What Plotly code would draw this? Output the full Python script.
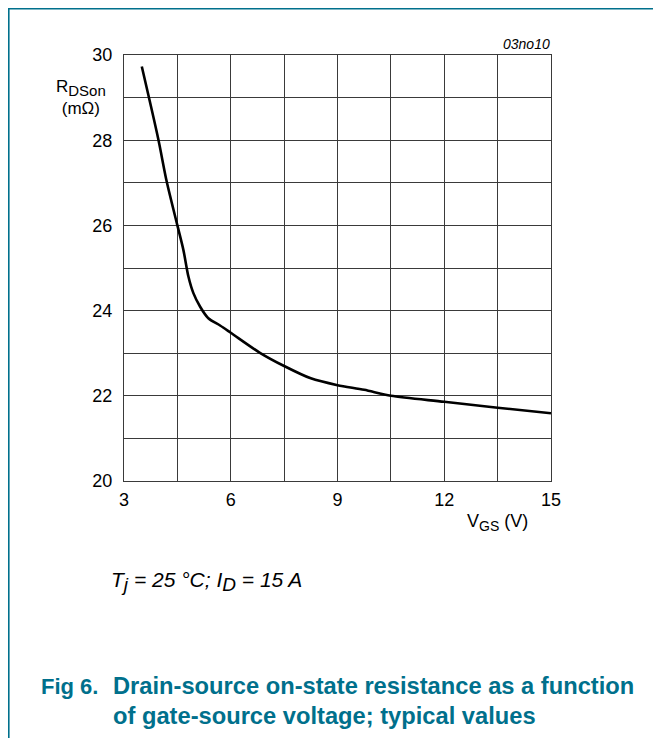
import plotly.graph_objects as go

# Data
vgs = [3.5, 3.96, 4.2, 4.5, 4.67, 4.81, 4.95, 5.14, 5.37, 5.7, 6.0, 6.82, 7.5, 8.25, 9.0, 9.75, 10.5, 12.0, 13.5, 15.0]
rdson = [29.73, 28.04, 27.03, 26.0, 25.42, 24.8, 24.41, 24.09, 23.82, 23.65, 23.48, 23.01, 22.70, 22.41, 22.25, 22.14, 22.0, 21.86, 21.72, 21.59]

x_grid = [3, 4.5, 6, 7.5, 9, 10.5, 12, 13.5, 15]
x_ticks = [3, 6, 9, 12, 15]
y_grid = list(range(20, 31))
y_ticks = [20, 22, 24, 26, 28, 30]

# page offset (browser default body margin)
OFF = 8
W, H = 661 - OFF, 738 - OFF
# plot area in page pixels
PL, PR, PT, PB = 124, 551, 55, 481
L, R, T, B = PL - OFF, PR - OFF, PT - OFF, PB - OFF
TEAL = "#00708c"
FONT = "Liberation Sans, Arial, sans-serif"

def px(x):
    return (x - PL) / (PR - PL)

def py(y):
    return (PB - y) / (PB - PT)

fig = go.Figure()
fig.add_trace(go.Scatter(x=vgs, y=rdson, mode="lines",
                         line=dict(color="black", width=2.6, shape="spline", smoothing=0.8),
                         hoverinfo="skip", showlegend=False))

axis_common = dict(showgrid=True, gridcolor="#3a3a3a", gridwidth=1,
                   showline=True, linecolor="#3a3a3a", linewidth=1, mirror=True,
                   zeroline=False, ticks="", tickfont=dict(family=FONT, size=18, color="black"))

fig.update_xaxes(range=[3, 15], tickvals=x_grid,
                 ticktext=[str(v) if v in x_ticks else "" for v in x_grid],
                 ticklabelstandoff=2, **axis_common)
fig.update_yaxes(range=[20, 30], tickvals=y_grid,
                 ticktext=[str(v) if v in y_ticks else "" for v in y_grid],
                 ticklabelstandoff=7, **axis_common)

def note(text, x, y, size, color="black", xanchor="center", align="center"):
    return dict(text=text, x=px(x), y=py(y), xref="paper", yref="paper",
                showarrow=False, xanchor=xanchor, yanchor="middle", align=align,
                font=dict(family=FONT, size=size, color=color))

ann = [
    note("R<sub><span style='font-size:15px'>DSon</span></sub><br>(mΩ)", 81, 97, 17),
    note("V<sub><span style='font-size:14px'>GS</span></sub> (V)", 497, 522, 18),
    note("<i>03no10</i>", 552, 44, 14, xanchor="right"),
    note("<i>T<sub><span style='font-size:19px'>j</span></sub> = 25 °C; I<sub><span style='font-size:19px'>D</span></sub> = 15 A</i>",
         109, 581, 21, xanchor="left"),
    note("<b>Fig 6.</b>", 39, 686, 22, color=TEAL, xanchor="left"),
    note("<b>Drain-source on-state resistance as a function</b>", 111, 686, 23.7, color=TEAL, xanchor="left"),
    note("<b>of gate-source voltage; typical values</b>", 111, 716, 23.7, color=TEAL, xanchor="left"),
]

shapes = [
    dict(type="line", xref="paper", yref="paper", x0=px(OFF), x1=px(661), y0=py(OFF + 0.8), y1=py(OFF + 0.8),
         line=dict(color=TEAL, width=1.6)),
    dict(type="line", xref="paper", yref="paper", x0=px(OFF + 0.8), x1=px(OFF + 0.8), y0=py(OFF), y1=py(738),
         line=dict(color=TEAL, width=1.6)),
]

fig.update_layout(width=W, height=H, margin=dict(l=L, r=W - R, t=T, b=H - B, autoexpand=False),
                  paper_bgcolor="white", plot_bgcolor="white",
                  annotations=ann, shapes=shapes, showlegend=False)

fig.write_html("out.html")
